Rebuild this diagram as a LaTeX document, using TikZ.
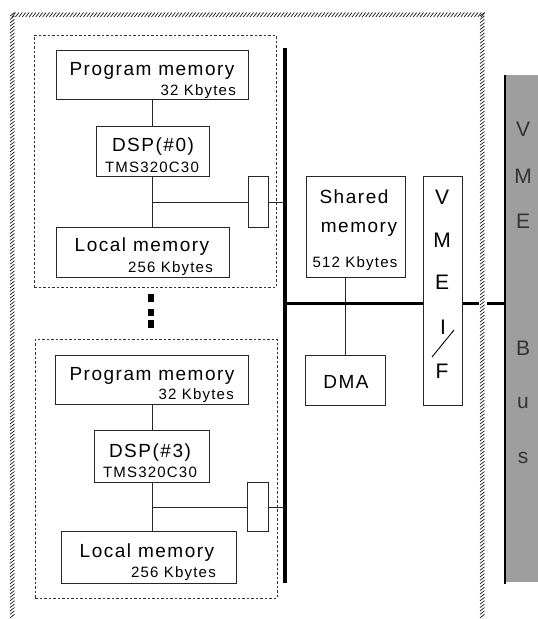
\documentclass[tikz,border=0pt]{standalone}
\usepackage{fontspec}
\setmainfont{Liberation Sans}
\newfontfamily\lsf{Liberation Sans}[LetterSpace=8]
\begin{document}
\begin{tikzpicture}[x=1pt,y=-1pt,
  box/.style={draw=black!85, line width=0.8pt, inner sep=0pt, anchor=north west, fill=white},
  grp/.style={draw=black!80, line width=0.8pt, dash pattern=on 2.5pt off 2pt, inner sep=0pt, anchor=north west},
  big/.style={font=\lsf\fontsize{19}{22}\selectfont, inner sep=0pt},
  small/.style={font=\lsf\fontsize{15}{18}\selectfont, inner sep=0pt},
  vmel/.style={font=\fontsize{21}{24}\selectfont, inner sep=0pt, anchor=base},
  busl/.style={font=\fontsize{21}{24}\selectfont, inner sep=0pt, anchor=base, text=black!80},
  wire/.style={line width=0.8pt, draw=black!85},
  bus/.style={line width=3.4pt, draw=black},
  link/.style={line width=3pt, draw=black},
  hatch/.style={line width=0.7pt, draw=black!90}
]
\useasboundingbox (0,0) rectangle (538,619);

% hatched outer border
\foreach \x in {12,15.4,...,482} \draw[hatch] (\x,17) -- (\x+3.5,12.5);
\foreach \y in {14,17.4,...,617} \draw[hatch] (10,\y+2) -- (14.5,\y-1.5);
\foreach \y in {14,17.4,...,617} \draw[hatch] (480,\y+2) -- (484.5,\y-1.5);

% VME bus bar
\node[box, draw=none, fill=black!38, minimum width=33pt, minimum height=507pt] (bar) at (505,75) {};
\draw[line width=1.2pt] (bar.north west) -- ([yshift=-1pt]bar.south west);
\node[busl] (b1) at (523,136) {V};
\node[busl] (b2) at (523,183) {M};
\node[busl] (b3) at (523,228) {E};
\node[busl] (b4) at (523,355) {B};
\node[busl] (b5) at (523,408) {u};
\node[busl] (b6) at (523,463) {s};

% group boxes
\node[grp, minimum width=242pt, minimum height=252pt] (grp1) at (34,35) {};
\node[grp, minimum width=242pt, minimum height=259pt] (grp2) at (35,339) {};

% main bus
\coordinate (bustop) at (285,48);
\coordinate (busbot) at (285,583);
\draw[bus] (bustop) -- (busbot);

% ---- block 1
\node[box, minimum width=192pt, minimum height=49pt] (pm1) at (56,50) {};
\node[big, anchor=base] (pm1t) at (152,75) {Program memory};
\node[small, anchor=base east] (pm1k) at (236,95) {32 Kbytes};
\node[box, minimum width=113pt, minimum height=50pt] (dsp1) at (95.5,126) {};
\node[big, anchor=base] (dsp1t) at (153,151) {DSP(\#0)};
\node[small, anchor=base] (dsp1k) at (152,172) {TMS320C30};
\node[box, minimum width=20pt, minimum height=51pt] (sb1) at (248,176) {};
\node[box, minimum width=173pt, minimum height=50pt] (lm1) at (56,227) {};
\node[big, anchor=base] (lm1t) at (142,251) {Local memory};
\node[small, anchor=base east] (lm1k) at (213,272) {256 Kbytes};
\draw[wire] (pm1.south) -- (dsp1.north);
\draw[wire] (dsp1.south) -- (dsp1.south |- lm1.north);
\draw[wire] (dsp1.south |- sb1.west) -- (sb1.west);
\draw[wire] (sb1.east) -- (sb1.east -| bustop);

% dots
\fill (148,294) rectangle (154,302);
\fill (148,309) rectangle (154,316);
\fill (148,320) rectangle (154,328);

% ---- block 2
\node[box, minimum width=193pt, minimum height=49pt] (pm2) at (55,355) {};
\node[big, anchor=base] (pm2t) at (152,380) {Program memory};
\node[small, anchor=base east] (pm2k) at (234,399) {32 Kbytes};
\node[box, minimum width=115pt, minimum height=52pt] (dsp2) at (94,430) {};
\node[big, anchor=base] (dsp2t) at (150,457) {DSP(\#3)};
\node[small, anchor=base] (dsp2k) at (150,477) {TMS320C30};
\node[box, minimum width=21pt, minimum height=49pt] (sb2) at (247,482) {};
\node[box, minimum width=175pt, minimum height=52pt] (lm2) at (61,531) {};
\node[big, anchor=base] (lm2t) at (147,557) {Local memory};
\node[small, anchor=base east] (lm2k) at (216,577) {256 Kbytes};
\draw[wire] (pm2.south) -- (dsp2.north);
\draw[wire] (dsp2.south) -- (dsp2.south |- lm2.north);
\draw[wire] (dsp2.south |- sb2.west) -- (sb2.west);
\draw[wire] (sb2.east) -- (sb2.east -| bustop);

% ---- shared memory, DMA, VME I/F
\node[box, minimum width=99pt, minimum height=101pt] (shm) at (306,176) {};
\node[big, anchor=base] (shm1) at (354,203) {Shared};
\node[big, anchor=base] (shm2) at (359,232) {memory};
\node[small, anchor=base] (shm3) at (355,267) {512 Kbytes};
\node[box, minimum width=80pt, minimum height=50pt] (dma) at (305,355) {};
\node[big, anchor=base] (dmat) at (346,388) {DMA};
\draw[wire] (dma.north |- shm.south) -- (dma.north);

\node[box, minimum width=39pt, minimum height=229pt] (vme) at (423,176) {};
\node[vmel] (v1) at (442,204) {V};
\node[vmel] (v2) at (442,247) {M};
\node[vmel] (v3) at (442,289) {E};
\node[vmel] (v4) at (443,334) {I};
\node[vmel] (v5) at (442,378) {F};
\draw[line width=0.9pt] (432,357) -- (454,330);

% horizontal bus and link to VME bus
\coordinate (hb) at (285,303);
\draw[link] ([xshift=-1.7pt]hb) -- (hb -| vme.west);
\coordinate (lk1) at (479,303);
\coordinate (lk2) at (487,303);
\draw[link] (vme.east |- hb) -- (lk1);
\draw[link] (lk2) -- (lk2 -| bar.west);
\end{tikzpicture}
\end{document}
